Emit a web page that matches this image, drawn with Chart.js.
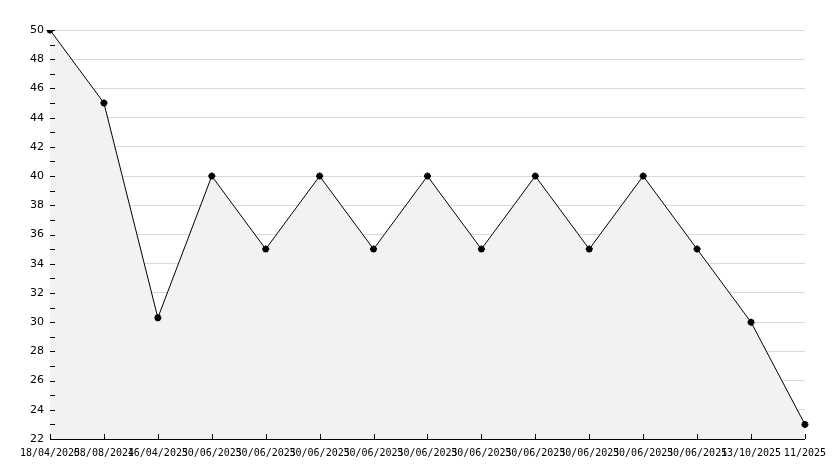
<!DOCTYPE html>
<html>
<head>
<meta charset="utf-8">
<script src="https://cdn.jsdelivr.net/npm/chart.js@4/dist/chart.umd.min.js"></script>
<style>
  html, body { margin: 0; padding: 0; background: #fff; }
  #wrap { width: 834px; height: 468px; }
</style>
</head>
<body>
<div id="wrap"><canvas id="chart" width="834" height="468"></canvas></div>
<script>
// data
const dateLabels = [
    '18/04/2025', '08/08/2024', '16/04/2025', '30/06/2025', '30/06/2025',
    '30/06/2025', '30/06/2025', '30/06/2025', '30/06/2025', '30/06/2025',
    '30/06/2025', '30/06/2025', '30/06/2025', '13/10/2025', '11/2025'
];
const values = [50, 45, 30.3, 40, 35, 40, 35, 40, 35, 40, 35, 40, 35, 30, 23];
const yMin = 22;
const yMax = 50;

// small inward tick marks on both axes
const innerTicks = {
    id: 'innerTicks',
    afterDatasetsDraw(chart) {
        const ctx = chart.ctx;
        const x = chart.scales.x;
        const y = chart.scales.y;
        const area = chart.chartArea;
        ctx.save();
        ctx.strokeStyle = '#000';
        ctx.lineWidth = 1;
        ctx.beginPath();
        for (let v = yMin; v <= yMax; v++) {
            const py = Math.round(y.getPixelForValue(v)) + 0.5;
            ctx.moveTo(area.left, py);
            ctx.lineTo(area.left + 5, py);
        }
        for (let i = 0; i < dateLabels.length; i++) {
            const px = Math.round(x.getPixelForValue(i)) + 0.5;
            ctx.moveTo(px, area.bottom);
            ctx.lineTo(px, area.bottom - 5);
        }
        ctx.stroke();
        ctx.restore();
    }
};

new Chart(document.getElementById('chart'), {
    type: 'line',
    data: {
        labels: dateLabels,
        datasets: [{
            data: values,
            borderColor: '#000',
            borderWidth: 1,
            backgroundColor: '#f2f2f2',
            fill: 'start',
            tension: 0,
            pointRadius: 3.5,
            pointStyle: 'star',
            pointBackgroundColor: '#000',
            pointBorderColor: '#000',
            pointBorderWidth: 2
        }]
    },
    options: {
        responsive: false,
        animation: false,
        layout: { padding: { left: 0, right: 27, top: 30, bottom: 0 } },
        plugins: {
            legend: { display: false },
            tooltip: { enabled: false }
        },
        scales: {
            x: {
                offset: false,
                grid: { display: false, drawTicks: false },
                border: { color: '#000', width: 1 },
                ticks: {
                    autoSkip: false,
                    maxRotation: 0,
                    minRotation: 0,
                    padding: 8,
                    color: '#000',
                    font: { family: 'DejaVu Sans Mono', size: 10 }
                },
                afterFit(scale) { scale.height = 29; }
            },
            y: {
                min: yMin,
                max: yMax,
                grid: {
                    drawTicks: false,
                    color: ctx => (ctx.tick && ctx.tick.value % 2 === 0 ? '#d9d9d9' : 'rgba(0,0,0,0)')
                },
                border: { color: '#000', width: 1 },
                ticks: {
                    stepSize: 1,
                    padding: 6,
                    color: '#000',
                    font: { family: 'DejaVu Sans', size: 11 },
                    callback: v => (v % 2 === 0 ? v : '')
                },
                afterFit(scale) { scale.width = 50; }
            }
        }
    },
    plugins: [innerTicks]
});
</script>
</body>
</html>
